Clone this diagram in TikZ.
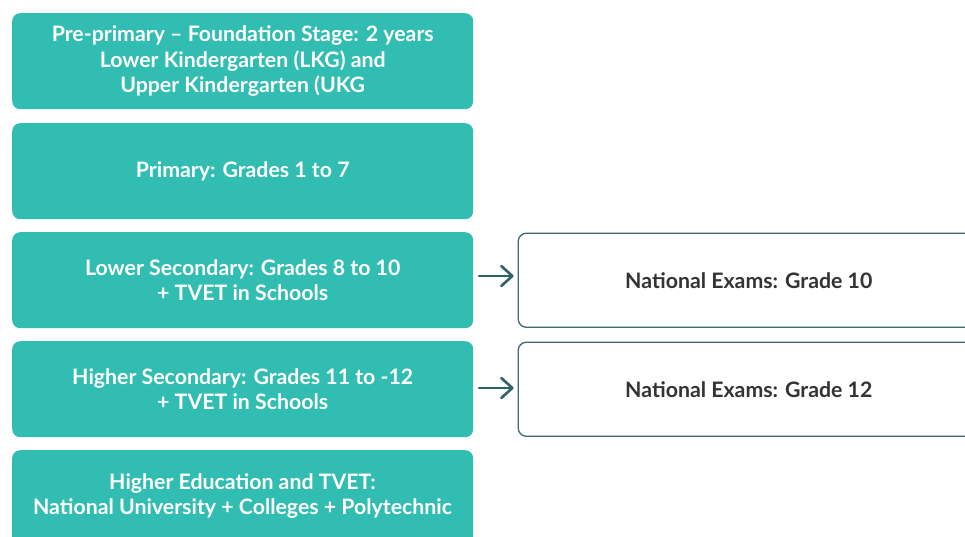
\documentclass[tikz,border=0pt]{standalone}
\usepackage{fontspec}
\setmainfont{Lato}
\usetikzlibrary{arrows.meta}
\definecolor{teal1}{HTML}{31BDB1}
\definecolor{edgec}{HTML}{3E6B70}
\definecolor{txtc}{HTML}{333333}
\definecolor{arrc}{HTML}{2E6266}
\begin{document}
\begin{tikzpicture}[x=1pt,y=-1pt,
  lbl/.style={font=\fontsize{21.3}{25.5}\selectfont\bfseries, align=center},
  stage/.style={lbl, rectangle, rounded corners=8pt, fill=teal1, draw=none,
    minimum width=461pt, minimum height=96pt, anchor=north west,
    text=white, inner sep=0pt},
  exam/.style={lbl, rectangle, rounded corners=8pt, fill=white, draw=edgec, line width=1.3pt,
    minimum width=461pt, minimum height=94pt, anchor=north west,
    text=txtc, inner sep=0pt},
  arr/.style={draw=arrc, line width=2.6pt, line cap=round, shorten >=4pt,
    -{Straight Barb[length=11pt,width=20pt,round]}}]
\useasboundingbox (0,0) rectangle (965,536);
\clip (0,0) rectangle (965,536);
\node[stage] (pre) at (12,13) {Pre-primary – Foundation Stage: 2 years\\Lower Kindergarten (LKG) and\\Upper Kindergarten (UKG};
\node[stage] (pri) at (12,123) {Primary: Grades 1 to 7};
\node[stage] (low) at (12,232) {Lower Secondary: Grades 8 to 10\\+ TVET in Schools};
\node[stage] (high) at (12,341) {Higher Secondary: Grades 11 to -12\\+ TVET in Schools};
\node[stage, minimum height=110pt] (he) at (12,450) {};
\node[lbl, text=white] (het) at (242.5,496) {Higher Education and TVET:\\National University + Colleges + Polytechnic};
\node[exam] (e10) at (517.6,232.6) {National Exams: Grade 10};
\node[exam] (e12) at (517.6,341.6) {National Exams: Grade 12};
\coordinate (a1) at (479,276);
\coordinate (a2) at (479,388);
\draw[arr] (a1) -- (e10.west |- a1);
\draw[arr] (a2) -- (e12.west |- a2);
\end{tikzpicture}
\end{document}
